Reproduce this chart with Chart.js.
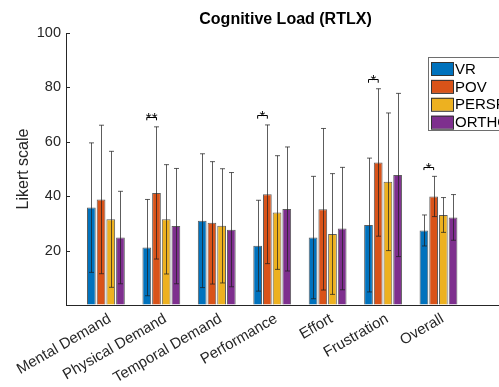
<!DOCTYPE html>
<html>
<head>
<meta charset="utf-8">
<script src="https://cdn.jsdelivr.net/npm/chart.js@4"></script>
<style>
  html, body { margin: 0; padding: 0; background: #fff; overflow: hidden; }
  #wrap { width: 520px; height: 387px; }
</style>
</head>
<body>
<div id="wrap"><canvas id="rtlx"></canvas></div>
<script>
const categories = ['Mental Demand', 'Physical Demand', 'Temporal Demand', 'Performance', 'Effort', 'Frustration', 'Overall']
const conditions = ['VR', 'POV', 'PERSPECTIVE', 'ORTHOGRAPHIC']
const colors = ['#0072BD', '#D95319', '#EDB120', '#7E2F8E']

// means
const vrMean    = [35.8, 21.1, 31.0, 21.8, 24.8, 29.4, 27.4]
const povMean   = [38.8, 41.2, 30.2, 40.7, 35.2, 52.4, 39.9]
const perspMean = [31.5, 31.5, 29.1, 34.0, 26.1, 45.3, 33.1]
const orthoMean = [24.8, 29.0, 27.7, 35.3, 28.1, 47.8, 32.2]

// standard deviations (error bars)
const vrSd    = [23.8, 17.7, 24.6, 16.7, 22.5, 24.6, 5.7]
const povSd   = [27.3, 24.3, 22.5, 25.5, 29.7, 27.1, 7.4]
const perspSd = [25.0, 20.1, 21.0, 20.9, 22.2, 25.3, 6.4]
const orthoSd = [17.0, 21.2, 21.0, 22.8, 22.5, 30.0, 8.4]

// significance between VR and POV
const sigIndex = [1, 3, 5, 6]
const sigLabel = ['**', '*', '*', '*']
const sigY     = [69.2, 69.8, 83.0, 50.9]

const yTicks = [0, 20, 40, 60, 80, 100]

const means = [vrMean, povMean, perspMean, orthoMean]
const sds = [vrSd, povSd, perspSd, orthoSd]
const FONT = '"Liberation Sans", Arial, Helvetica, sans-serif'

const extras = {
    id: 'extras',
    afterDatasetsDraw(chart) {
        const ctx = chart.ctx
        const ys = chart.scales.y
        const area = chart.chartArea
        ctx.save()

        // error bars
        ctx.strokeStyle = 'rgba(30,30,30,0.72)'
        ctx.lineWidth = 1
        sds.forEach((sd, d) => {
            const meta = chart.getDatasetMeta(d)
            meta.data.forEach((bar, i) => {
                const x = Math.round(bar.x) + 0.5
                const top = ys.getPixelForValue(means[d][i] + sd[i])
                const bot = ys.getPixelForValue(Math.max(means[d][i] - sd[i], 0))
                ctx.beginPath()
                ctx.moveTo(x, top); ctx.lineTo(x, bot)
                ctx.moveTo(x - 2.5, top); ctx.lineTo(x + 2.5, top)
                ctx.moveTo(x - 2.5, bot); ctx.lineTo(x + 2.5, bot)
                ctx.stroke()
            })
        })

        // significance brackets
        ctx.strokeStyle = '#000'
        ctx.fillStyle = '#000'
        ctx.font = '15px ' + FONT
        ctx.textAlign = 'center'
        ctx.textBaseline = 'alphabetic'
        sigIndex.forEach((ci, k) => {
            const a = chart.getDatasetMeta(0).data[ci].x
            const b = chart.getDatasetMeta(1).data[ci].x
            const y = Math.round(ys.getPixelForValue(sigY[k])) + 0.5
            const t = ys.getPixelForValue(sigY[k] - 1.3)
            ctx.beginPath()
            ctx.moveTo(a, t); ctx.lineTo(a, y); ctx.lineTo(b, y); ctx.lineTo(b, t)
            ctx.stroke()
            ctx.fillText(sigLabel[k], (a + b) / 2, y + 5)
        })

        // inward ticks on y axis
        ctx.strokeStyle = '#262626'
        yTicks.forEach(v => {
            const y = Math.round(ys.getPixelForValue(v)) + 0.5
            ctx.beginPath()
            ctx.moveTo(area.left, y); ctx.lineTo(area.left + 4, y)
            ctx.stroke()
        })

        // legend
        const lx = 428.5, ly = 57.5
        ctx.fillStyle = '#fff'
        ctx.fillRect(lx, ly, 110, 73)
        ctx.strokeStyle = '#6e6e6e'
        ctx.strokeRect(lx, ly, 110, 73)
        ctx.font = '15px ' + FONT
        ctx.textAlign = 'left'
        ctx.textBaseline = 'middle'
        conditions.forEach((c, i) => {
            const ry = 62 + i * 17.9
            ctx.fillStyle = colors[i]
            ctx.fillRect(431, ry, 22, 13)
            ctx.strokeStyle = '#333'
            ctx.strokeRect(431.5, ry + 0.5, 22, 13)
            ctx.fillStyle = '#000'
            ctx.fillText(c, 455, ry + 7.5)
        })

        // title
        ctx.font = 'bold 16px ' + FONT
        ctx.textAlign = 'center'
        ctx.fillStyle = '#000'
        ctx.fillText('Cognitive Load (RTLX)', (area.left + area.right) / 2, 20)
        ctx.restore()
    }
}

new Chart(document.getElementById('rtlx'), {
    type: 'bar',
    data: {
        datasets: conditions.map((c, d) => ({
            label: c,
            data: means[d].map((v, i) => ({ x: i + 1, y: v })),
            backgroundColor: colors[d],
            borderColor: 'rgba(40,40,40,0.75)',
            borderWidth: 1,
            categoryPercentage: 0.7,
            barPercentage: 0.9
        }))
    },
    options: {
        responsive: true,
        maintainAspectRatio: false,
        animation: false,
        layout: { padding: { left: 0, right: 15, top: 33, bottom: 0 } },
        plugins: {
            legend: { display: false },
            tooltip: { enabled: false }
        },
        scales: {
            x: {
                type: 'linear',
                offset: false,
                min: 0.28,
                max: 8.2,
                afterBuildTicks: axis => { axis.ticks = categories.map((_, i) => ({ value: i + 1 })) },
                afterFit: axis => { axis.height = 82 },
                grid: { display: true, drawOnChartArea: false, drawTicks: false, color: '#262626' },
                border: { color: '#262626', width: 1 },
                ticks: {
                    autoSkip: false,
                    minRotation: 30,
                    maxRotation: 30,
                    padding: 5,
                    labelOffset: 4,
                    color: '#262626',
                    font: { family: FONT, size: 15 },
                    callback: v => categories[v - 1] || ''
                }
            },
            y: {
                min: 0,
                max: 100,
                afterBuildTicks: axis => { axis.ticks = yTicks.map(v => ({ value: v })) },
                afterFit: axis => { axis.width = 66 },
                grid: { display: true, drawOnChartArea: false, drawTicks: false },
                border: { color: '#262626', width: 1 },
                ticks: {
                    padding: 5,
                    color: '#262626',
                    font: { family: FONT, size: 14.5 },
                    callback: v => v === 0 ? '' : v
                },
                title: {
                    display: true,
                    text: 'Likert scale',
                    color: '#262626',
                    font: { family: FONT, size: 16 },
                    padding: { top: 14, bottom: 0 }
                }
            }
        }
    },
    plugins: [extras]
})
</script>
</body>
</html>
